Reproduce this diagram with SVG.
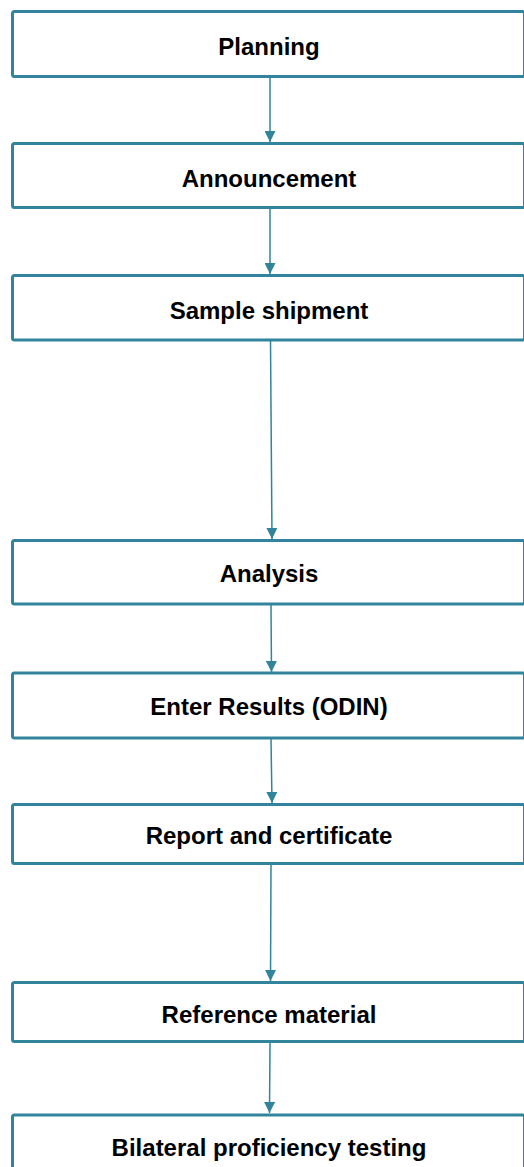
<svg xmlns="http://www.w3.org/2000/svg" width="524" height="1167" viewBox="0 0 524 1167">
<defs>
<style>
.box{fill:#ffffff;stroke:#31849B;stroke-width:3}
.lbl{font-family:"Liberation Sans",Arial,sans-serif;font-weight:bold;font-size:24px;fill:#000000;text-anchor:middle}
.conn{stroke:#31849B;stroke-width:1.5;fill:none;marker-end:url(#arr)}
</style>
<marker id="arr" markerUnits="userSpaceOnUse" markerWidth="11" markerHeight="11" viewBox="0 0 11 11" refX="11" refY="5.5" orient="auto">
<path d="M0,0 L11,5.5 L0,11 Z" fill="#31849B"/>
</marker>
</defs>
<rect width="524" height="1167" fill="#ffffff"/>
<g id="connectors">
<path class="conn" d="M270,78 L270,142"/>
<path class="conn" d="M270,209 L270,274"/>
<path class="conn" d="M270.5,341 L272,539"/>
<path class="conn" d="M271,605 L271.5,672"/>
<path class="conn" d="M271,739 L272,803"/>
<path class="conn" d="M271,865 L270.5,981"/>
<path class="conn" d="M270,1043 L269.5,1113"/>
</g>
<g id="n1"><rect class="box" x="12.5" y="11.5" width="512" height="65" rx="2"/><text class="lbl" x="269" y="55">Planning</text></g>
<g id="n2"><rect class="box" x="12.5" y="143.5" width="512" height="64" rx="2"/><text class="lbl" x="269" y="187">Announcement</text></g>
<g id="n3"><rect class="box" x="12.5" y="275.5" width="512" height="64.5" rx="2"/><text class="lbl" x="269" y="319">Sample shipment</text></g>
<g id="n4"><rect class="box" x="12.5" y="540.5" width="512" height="63.5" rx="2"/><text class="lbl" x="269" y="582">Analysis</text></g>
<g id="n5"><rect class="box" x="12.5" y="673" width="512" height="65" rx="2"/><text class="lbl" x="269" y="715">Enter Results (ODIN)</text></g>
<g id="n6"><rect class="box" x="12.5" y="804.5" width="512" height="59" rx="2"/><text class="lbl" x="269" y="844">Report and certificate</text></g>
<g id="n7"><rect class="box" x="12.5" y="982.5" width="512" height="59" rx="2"/><text class="lbl" x="269" y="1023">Reference material</text></g>
<g id="n8"><rect class="box" x="12.5" y="1115" width="512" height="70" rx="2"/><text class="lbl" x="269" y="1156">Bilateral proficiency testing</text></g>
</svg>
